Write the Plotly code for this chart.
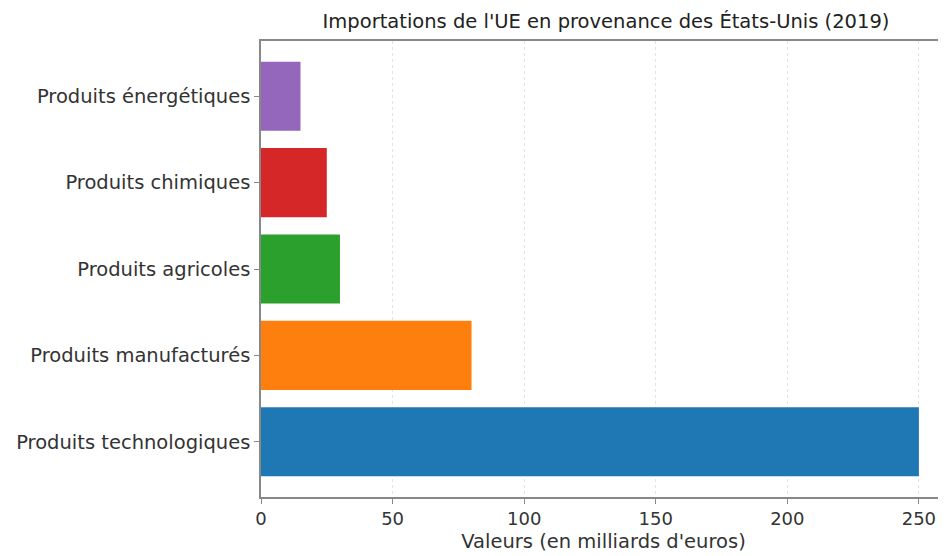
import plotly.graph_objects as go

categories = ["Produits technologiques", "Produits manufacturés", "Produits agricoles",
              "Produits chimiques", "Produits énergétiques"]
values = [250, 80, 30, 25, 15]
colors = ["#1f77b4", "#ff7f0e", "#2ca02c", "#d62728", "#9467bd"]

fig = go.Figure()
fig.add_trace(go.Bar(
    x=values,
    y=categories,
    orientation="h",
    marker=dict(color=colors, line=dict(width=0)),
    width=0.8,
    showlegend=False,
))

font_name = "DejaVu Sans"

# page body has an 8px margin, so the figure is 8px smaller than the window
W, H = 938, 548

fig.update_layout(
    width=W,
    height=H,
    paper_bgcolor="white",
    plot_bgcolor="white",
    margin=dict(l=253, r=0, t=33, b=59, autoexpand=False),
    font=dict(family=font_name, color="#333333", size=18),
    title=dict(
        text="Importations de l'UE en provenance des États-Unis (2019)",
        x=(253 + 943) / 2 / W,
        xanchor="center",
        y=1 - 13 / H,
        yanchor="middle",
        font=dict(size=19.5, color="#222222"),
    ),
    bargap=0.2,
)

fig.update_xaxes(
    range=[0, 260.3],
    tickvals=[0, 50, 100, 150, 200, 250],
    automargin=False,
    showgrid=True,
    gridcolor="#e3e3e3",
    griddash="dot",
    gridwidth=1,
    showline=True,
    linecolor="#888888",
    linewidth=1.5,
    mirror=True,
    ticks="outside",
    ticklen=5,
    tickcolor="#888888",
    tickfont=dict(size=18),
    zeroline=False,
    title=dict(text="Valeurs (en milliards d'euros)", font=dict(size=19.5), standoff=6),
)

fig.update_yaxes(
    range=[-0.64, 4.64],
    automargin=False,
    showgrid=False,
    showline=True,
    linecolor="#888888",
    linewidth=1.5,
    mirror=False,
    ticks="outside",
    ticklen=5,
    tickcolor="#888888",
    tickfont=dict(size=19.5),
    ticklabelstandoff=0,
)

fig.write_html("out.html")
